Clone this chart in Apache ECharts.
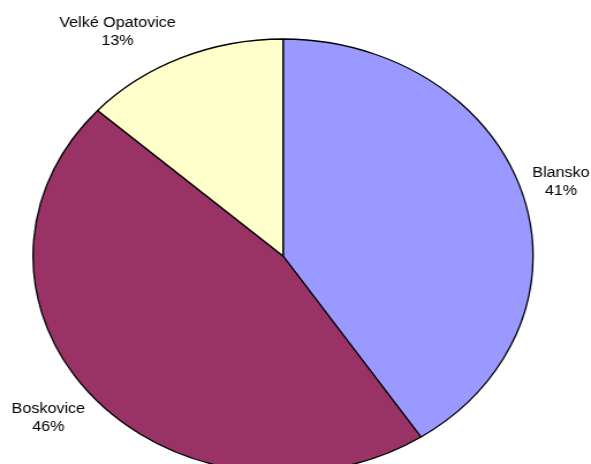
<!DOCTYPE html>
<html>
<head>
<meta charset="utf-8">
<script src="https://cdn.jsdelivr.net/npm/echarts@6/dist/echarts.min.js"></script>
<style>
  html, body { margin: 0; padding: 0; background: #fff; overflow: hidden; width: 591px; height: 464px; }
  #c { width: 513px; height: 464px; transform: scaleX(1.152); transform-origin: 0 0; }
</style>
</head>
<body>
<div id="c"></div>
<script>
const categories = ['Blansko', 'Boskovice', 'Velké Opatovice'];
const values = [40.7, 46.0, 13.3];
const colors = ['#9999FF', '#993366', '#FFFFCC'];
// label block centres (unstretched chart coordinates)
const labelPos = [[487, 182], [42, 418], [102, 32]];

const chart = echarts.init(document.getElementById('c'), null, { renderer: 'canvas' });
chart.setOption({
  animation: false,
  backgroundColor: '#ffffff',
  series: [{
    type: 'pie',
    center: [245.7, 256],
    radius: 217,
    startAngle: 90,
    clockwise: true,
    silent: true,
    data: categories.map((c, i) => ({ name: c, value: values[i], itemStyle: { color: colors[i] } })),
    itemStyle: { borderColor: '#000', borderWidth: 1.3 },
    label: {
      show: true,
      position: 'inside',
      overflow: 'none',
      formatter: p => p.name + '\n' + Math.round(p.percent) + '%',
      fontFamily: 'Liberation Sans, Arial, sans-serif',
      fontSize: 14,
      lineHeight: 18,
      color: '#000',
      align: 'center'
    },
    labelLine: { show: false },
    labelLayout: p => ({
      x: labelPos[p.dataIndex][0],
      y: labelPos[p.dataIndex][1],
      align: 'center',
      verticalAlign: 'middle',
      hideOverlap: false
    })
  }]
});
</script>
</body>
</html>
